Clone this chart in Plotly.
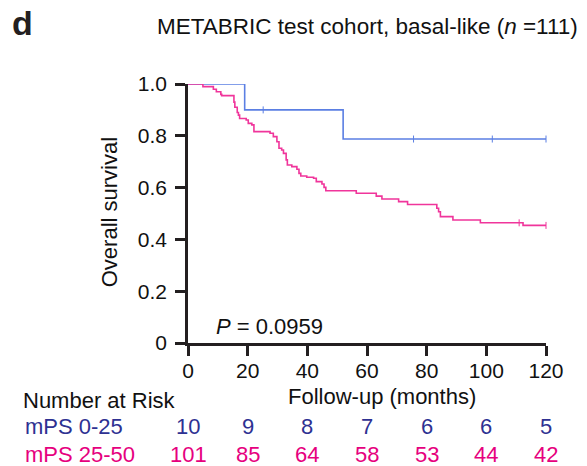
import plotly.graph_objects as go

# ---- data ----
blue_times = [0, 19, 52, 120]
blue_surv = [1.0, 0.9, 0.7875, 0.7875]
blue_cens_t = [25.2, 75.6, 102, 120]
blue_cens_s = [0.9, 0.7875, 0.7875, 0.7875]

pink_times = [0, 5, 8.5, 9.5, 11, 11.3, 15.4, 15.7, 16.5, 16.9, 17.3, 19.5, 20.2, 21.4, 22.1,
              27.5, 28.6, 29.8, 30.5, 31.4, 32.0, 32.9, 33.3, 34.8, 36.5, 37.2, 37.8, 39.8,
              42.1, 43.0, 44.9, 45.6, 46.2, 56.4, 63.1, 65.0, 70.6, 73.6, 83.4, 84.0, 84.6,
              88.8, 98.0, 112.3, 120]
pink_surv = [1.0, 0.99, 0.98, 0.97, 0.96, 0.955, 0.93, 0.91, 0.89, 0.88, 0.867, 0.861, 0.848,
             0.842, 0.816, 0.81, 0.797, 0.777, 0.752, 0.745, 0.732, 0.707, 0.687, 0.681, 0.671,
             0.655, 0.645, 0.640, 0.636, 0.623, 0.614, 0.601, 0.588, 0.578, 0.567, 0.556, 0.546,
             0.535, 0.520, 0.507, 0.488, 0.475, 0.464, 0.454, 0.454]
pink_cens_t = [111, 120]
pink_cens_s = [0.464, 0.454]

risk_times = [0, 20, 40, 60, 80, 100, 120]
risk_blue = [10, 9, 8, 7, 6, 6, 5]
risk_pink = [101, 85, 64, 58, 53, 44, 42]
group_labels = ["mPS 0-25", "mPS 25-50"]
y_ticks = [0, 0.2, 0.4, 0.6, 0.8, 1.0]
y_ticktext = ["0", "0.2", "0.4", "0.6", "0.8", "1.0"]

BLUE = "#5b7fe3"
PINK = "#f0359b"
BLUE_TXT = "#2e3192"
PINK_TXT = "#e6007e"
AX = "#231f20"
TXT = "#111111"
FONT = "Liberation Sans, Arial, Helvetica, sans-serif"

fig = go.Figure()
fig.add_trace(go.Scatter(x=blue_times, y=blue_surv, mode="lines", line=dict(color=BLUE, width=1.6, shape="hv"),
                         cliponaxis=False, showlegend=False))
fig.add_trace(go.Scatter(x=pink_times, y=pink_surv, mode="lines", line=dict(color=PINK, width=1.6, shape="hv"),
                         cliponaxis=False, showlegend=False))
fig.add_trace(go.Scatter(x=blue_cens_t, y=blue_cens_s, mode="markers",
                         marker=dict(symbol="line-ns", size=5, line=dict(color=BLUE, width=1)),
                         cliponaxis=False, showlegend=False))
fig.add_trace(go.Scatter(x=pink_cens_t, y=pink_cens_s, mode="markers",
                         marker=dict(symbol="line-ns", size=5, line=dict(color=PINK, width=1)),
                         cliponaxis=False, showlegend=False))

ann = []
ann.append(dict(text="d", x=-0.497, y=1.236, xref="paper", yref="paper", xanchor="left", yanchor="middle",
                showarrow=False, font=dict(size=34, color=AX, family="Liberation Sans, Arial", weight="bold")))
ann.append(dict(text="METABRIC test cohort, basal-like (<i>n</i> =111)", x=1.095, y=1.222, xref="paper", yref="paper",
                xanchor="right", yanchor="middle", showarrow=False, font=dict(size=22.5, color=TXT)))
ann.append(dict(text="<i>P</i> = 0.0959", x=8.7, y=0.062, xref="x", yref="y", xanchor="left", yanchor="middle",
                showarrow=False, font=dict(size=22, color=TXT)))
ann.append(dict(text="Overall survival", x=-0.217, y=0.506, xref="paper", yref="paper", textangle=-90,
                xanchor="center", yanchor="middle", showarrow=False, font=dict(size=22, color=TXT)))
ann.append(dict(text="Follow-up (months)", x=0.542, y=-0.207, xref="paper", yref="paper",
                xanchor="center", yanchor="middle", showarrow=False, font=dict(size=22, color=TXT)))
ann.append(dict(text="Number at Risk", x=-0.466, y=-0.222, xref="paper", yref="paper",
                xanchor="left", yanchor="middle", showarrow=False, font=dict(size=22, color=TXT)))
ann.append(dict(text=group_labels[0], x=-0.462, y=-0.324, xref="paper", yref="paper",
                xanchor="left", yanchor="middle", showarrow=False, font=dict(size=22, color=BLUE_TXT)))
ann.append(dict(text=group_labels[1], x=-0.462, y=-0.429, xref="paper", yref="paper",
                xanchor="left", yanchor="middle", showarrow=False, font=dict(size=22, color=PINK_TXT)))
for t, b, p in zip(risk_times, risk_blue, risk_pink):
    ann.append(dict(text=str(b), x=t, y=-0.324, xref="x", yref="paper", xanchor="center", yanchor="middle",
                    showarrow=False, font=dict(size=22, color=BLUE_TXT)))
    ann.append(dict(text=str(p), x=t, y=-0.429, xref="x", yref="paper", xanchor="center", yanchor="middle",
                    showarrow=False, font=dict(size=22, color=PINK_TXT)))

fig.update_layout(
    width=587, height=466,
    margin=dict(l=188, r=41, t=84, b=123),
    paper_bgcolor="white", plot_bgcolor="white",
    font=dict(family=FONT, size=21, color=TXT),
    annotations=ann,
    xaxis=dict(range=[0, 120], tickvals=risk_times, showgrid=False, zeroline=False,
               showline=True, linecolor=AX, linewidth=2.5, ticks="outside", ticklen=10, tickwidth=2.5,
               tickcolor=AX, ticklabelstandoff=-3, tickfont=dict(size=21, color=TXT)),
    yaxis=dict(range=[0, 1], tickvals=y_ticks, ticktext=y_ticktext,
               showgrid=False, zeroline=False, showline=True, linecolor=AX, linewidth=2.5,
               ticks="outside", ticklen=10, tickwidth=2.5, tickcolor=AX, ticklabelstandoff=4,
               tickfont=dict(size=21, color=TXT)),
)

fig.write_html("out.html")
